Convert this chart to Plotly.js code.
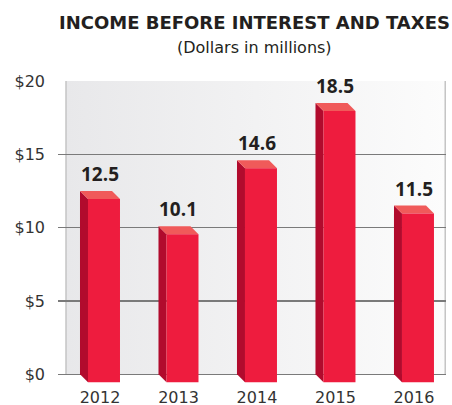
<!DOCTYPE html>
<html>
<head>
<meta charset="utf-8">
<script src="https://cdn.plot.ly/plotly-3.0.1.min.js"></script>
<style>html,body{margin:0;padding:0;background:#fff;}#chart{width:452px;height:405px;}</style>
</head>
<body>
<div id="chart"></div>
<script>
// ---- data ----
const years = ["2012", "2013", "2014", "2015", "2016"];
const values = [12.5, 10.1, 14.6, 18.5, 11.5];
const valueLabels = ["12.5", "10.1", "14.6", "18.5", "11.5"];
const yTickVals = [0, 5, 10, 15, 20];
const yTickText = ["$0", "$5", "$10", "$15", "$20"];
const titleText = "INCOME BEFORE INTEREST AND TAXES";
const subtitleText = "(Dollars in millions)";

// ---- layout constants ----
const W = 452, H = 405;
const M = {l: 58, r: 6, t: 81, b: 22};
const plotW = W - M.l - M.r, plotH = H - M.t - M.b;
const xRange = [-0.535, 4.408];
const yRange = [-0.6, 20];
const pxPerX = plotW / (xRange[1] - xRange[0]);
const pxPerY = plotH / (yRange[1] - yRange[0]);
const depthPx = 8;
const dx = depthPx / pxPerX, dy = depthPx / pxPerY;
const backL = -20 / pxPerX, backR = 12 / pxPerX;

const cFront = "#ee1c3e", cSide = "#b10b2d", cTop = "#f05a5a";
const FONT = "Open Sans, sans-serif";
const FONT2 = "DejaVu Sans, sans-serif";

const xs = years.map((_, i) => i);
const traces = [];
function poly(px, py, color) {
  traces.push({x: px, y: py, type: "scatter", mode: "lines", fill: "toself",
    fillcolor: color, line: {width: 0, color: color}, hoverinfo: "skip", showlegend: false});
}
xs.forEach((xi, i) => {
  const v = values[i];
  const x0 = xi + backL, x1 = xi + backR;
  poly([x0, x0, x0 + dx, x0 + dx, x0], [0, v, v - dy, -dy, 0], cSide);
  poly([x0, x1, x1 + dx, x0 + dx, x0], [v, v, v - dy, v - dy, v], cTop);
  poly([x0 + dx, x1 + dx, x1 + dx, x0 + dx, x0 + dx], [-dy, -dy, v - dy, v - dy, -dy], cFront);
});

const annotations = xs.map((xi, i) => ({
  x: xi, y: values[i], xref: "x", yref: "y", text: "<b>" + valueLabels[i] + "</b>",
  showarrow: false, yanchor: "bottom", yshift: 2,
  font: {family: FONT, size: 19, color: "#231f20"}
}));
annotations.push({
  x: (254 - M.l) / plotW, xref: "paper", xanchor: "center",
  y: 1 + (M.t - 47) / plotH, yref: "paper", yanchor: "middle",
  text: subtitleText, showarrow: false,
  font: {family: FONT2, size: 16, color: "#231f20"}
});
annotations.push({
  x: (254.5 - M.l) / plotW, xref: "paper", xanchor: "center",
  y: 1 + (M.t - 23) / plotH, yref: "paper", yanchor: "middle",
  text: "<b>" + titleText + "</b>", showarrow: false,
  font: {family: FONT2, size: 18, color: "#231f20"}
});

const bgSvg = '<svg xmlns="http://www.w3.org/2000/svg" width="100" height="100" preserveAspectRatio="none">' +
  '<defs><linearGradient id="g" x1="0" y1="0" x2="1" y2="0">' +
  '<stop offset="0" stop-color="#e8e8ea"/><stop offset="1" stop-color="#fcfcfc"/></linearGradient></defs>' +
  '<rect width="100" height="100" fill="url(#g)"/></svg>';
const bgSrc = "data:image/svg+xml;base64," + btoa(bgSvg);
const boxLeftPaper = depthPx / plotW;

const layout = {
  width: W, height: H,
  margin: M,
  paper_bgcolor: "#ffffff",
  plot_bgcolor: "rgba(0,0,0,0)",
  showlegend: false,
  title: {text: ""},
  xaxis: {
    range: xRange, tickvals: xs, ticktext: years, showgrid: false, zeroline: false,
    showline: false, ticks: "", ticklabelstandoff: 3, fixedrange: true,
    tickfont: {family: FONT2, size: 16, color: "#333333"}
  },
  yaxis: {
    range: yRange, tickvals: yTickVals, ticktext: yTickText, showgrid: true,
    gridcolor: "#7a7a7a", gridwidth: 1.3, zeroline: false, showline: false, ticks: "",
    ticklabelstandoff: 12, fixedrange: true,
    tickfont: {family: FONT2, size: 16, color: "#333333"}
  },
  images: [{
    source: bgSrc, xref: "paper", yref: "y", x: boxLeftPaper, y: 20,
    sizex: 1 - boxLeftPaper, sizey: 20, sizing: "stretch", layer: "below",
    xanchor: "left", yanchor: "top"
  }],
  shapes: [
    {type: "line", xref: "paper", yref: "y", x0: boxLeftPaper, x1: boxLeftPaper, y0: 0, y1: 20,
      line: {color: "#c4c4c4", width: 1.5}, layer: "below"},
    {type: "line", xref: "paper", yref: "y", x0: 0.998, x1: 0.998, y0: 0, y1: 20,
      line: {color: "#c4c4c4", width: 1.5}, layer: "below"}
  ],
  annotations: annotations
};

Plotly.newPlot("chart", traces, layout, {displayModeBar: false, staticPlot: true});
</script>
</body>
</html>
